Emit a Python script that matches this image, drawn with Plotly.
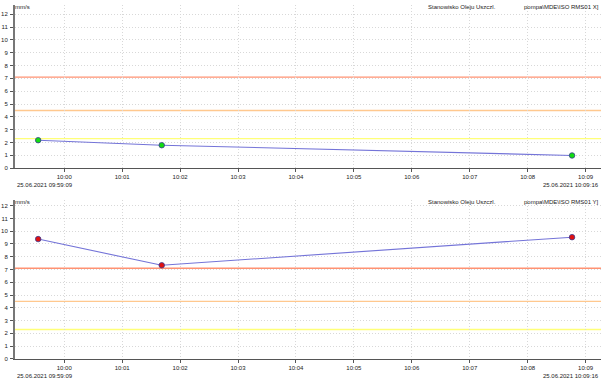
import plotly.graph_objects as go

# ---- data ----
times = ["2021-06-25 09:59:33", "2021-06-25 10:01:41", "2021-06-25 10:08:46"]
rms_x = [2.18, 1.79, 0.99]
rms_y = [9.38, 7.33, 9.53]
thresholds = [7.1, 4.5, 2.3]
threshold_colors = ["#ff9272", "#ffc88e", "#ffff78"]
x_start = "2021-06-25 09:59:09"
x_end = "2021-06-25 10:09:16"
start_label = "25.06.2021 09:59:09"
end_label = "25.06.2021 10:09:16"
unit = "mm/s"
station = "Stanowisko Oleju Uszczl."
titles = ["pompa\\MDE\\ISO RMS01 X]", "pompa\\MDE\\ISO RMS01 Y]"]
series = [rms_x, rms_y]
marker_colors = ["#11dd11", "#e01010"]

W, H = 604, 382
FONT = "Liberation Sans, Arial, sans-serif"
FS = 6
# pixel layout (from top)
panels = [(5, 169.5), (201.7, 361.7)]

fig = go.Figure()

for i, (vals, mc) in enumerate(zip(series, marker_colors)):
    xa = "x" if i == 0 else "x2"
    ya = "y" if i == 0 else "y2"
    fig.add_trace(go.Scatter(
        x=times, y=vals, mode="lines+markers", xaxis=xa, yaxis=ya,
        line=dict(color="#7474d8", width=1.1),
        marker=dict(color=mc, size=5.5, line=dict(color="#3a3a90", width=0.8)),
        showlegend=False, hoverinfo="skip"))
    for t, c in zip(thresholds, threshold_colors):
        fig.add_shape(type="line", xref=f"{xa} domain", yref=ya,
                      x0=0, x1=1, y0=t, y1=t,
                      line=dict(color=c, width=1.4), layer="below")

common_x = dict(
    type="date", range=[x_start, x_end], dtick=60000, tickformat="%H:%M",
    showgrid=True, gridcolor="#d8d8d8", griddash="1px,2px", gridwidth=1,
    showline=True, linecolor="#555555", linewidth=1,
    ticks="outside", ticklen=3, tickcolor="#555555", ticklabelstandoff=0,
    tickfont=dict(size=FS, color="#222222", family=FONT), zeroline=False,
)
common_y = dict(
    dtick=1, tick0=0,
    showgrid=True, gridcolor="#d8d8d8", griddash="1px,2px", gridwidth=1,
    showline=True, linecolor="#777777", linewidth=2,
    ticks="outside", ticklen=3, tickcolor="#555555", ticklabelstandoff=1,
    tickfont=dict(size=FS, color="#222222", family=FONT), zeroline=False,
)

def dom(top, bottom):
    return [1 - bottom / H, 1 - top / H]

ranges = [[0, (169.5 - 5) / 12.93], [0, (361.7 - 201.7) / 12.87]]

fig.update_layout(
    width=W, height=H,
    margin=dict(l=15, r=3, t=0, b=0),
    paper_bgcolor="white", plot_bgcolor="white",
    font=dict(family=FONT, size=FS, color="#222222"),
    xaxis=dict(**common_x, domain=[0, 1], anchor="y"),
    yaxis=dict(**common_y, domain=dom(*panels[0]), range=ranges[0], anchor="x"),
    xaxis2=dict(**common_x, domain=[0, 1], anchor="y2"),
    yaxis2=dict(**common_y, domain=dom(*panels[1]), range=ranges[1], anchor="x2"),
)

annotations = []
for i, (top, bottom) in enumerate(panels):
    ytop = 1 - (top + 2) / H
    annotations += [
        dict(text=unit, x=-0.004, y=ytop, xref="paper", yref="paper",
             xanchor="left", yanchor="middle", showarrow=False),
        dict(text=station, x=(426 - 15) / (W - 18), y=ytop, xref="paper", yref="paper",
             xanchor="left", yanchor="middle", showarrow=False),
        dict(text=titles[i], x=1.0, y=ytop, xref="paper", yref="paper",
             xanchor="right", yanchor="middle", showarrow=False),
        dict(text=start_label, x=0, y=1 - (bottom + 17) / H, xref="paper", yref="paper",
             xanchor="left", yanchor="middle", showarrow=False),
        dict(text=end_label, x=1.0, y=1 - (bottom + 17) / H, xref="paper", yref="paper",
             xanchor="right", yanchor="middle", showarrow=False),
    ]
fig.update_layout(annotations=annotations)

fig.write_html("out.html", config={"displayModeBar": False},
               post_script="document.body.style.margin='0';document.body.style.overflow='hidden';")
